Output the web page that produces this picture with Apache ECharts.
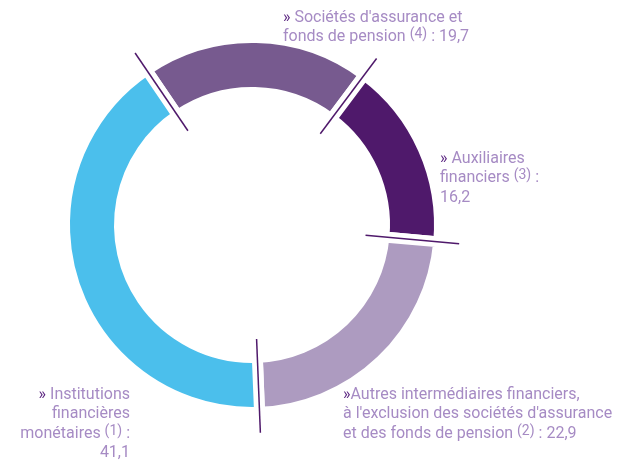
<!DOCTYPE html>
<html>
<head>
<meta charset="utf-8">
<script src="https://cdn.jsdelivr.net/npm/echarts@6/dist/echarts.min.js"></script>
<style>
html,body{margin:0;padding:0;background:#fff;}
#chart{width:619px;height:463px;}
</style>
</head>
<body>
<div id="chart"></div>
<script>
// ---- Data ----
const categories = [
  "Sociétés d'assurance et fonds de pension",
  "Auxiliaires financiers",
  "Autres intermédiaires financiers, à l'exclusion des sociétés d'assurance et des fonds de pension",
  "Institutions financières monétaires"
];
const values = [19.7, 16.2, 22.9, 41.1];
const noteRefs = ["(4)", "(3)", "(2)", "(1)"];
// label lines: {n} = note reference, {v} = value
const labelLines = [
  ["» Sociétés d'assurance et", "fonds de pension {n} : {v}"],
  ["» Auxiliaires", "financiers {n} :", "{v}"],
  ["»Autres intermédiaires financiers,", "à l'exclusion des sociétés d'assurance", "et des fonds de pension {n} : {v}"],
  ["» Institutions", "financières", "monétaires {n} :", "{v}"]
];
const colors = ["#775a8f", "#4f196b", "#ad9bc0", "#4bbfec"];

// ---- Build ----
const total = values.reduce((a, b) => a + b, 0);
const boundaries = [];
let acc = 0;
values.forEach(v => { boundaries.push(acc); acc += v; });

function fmt(v) { return String(v).replace('.', ','); }
function buildLabel(i) {
  return labelLines[i].map(line => {
    let out = '';
    let rest = line;
    if (rest.startsWith('»')) { out += '{c|»}'; rest = rest.slice(1); }
    const parts = rest.split(/(\{n\}|\{v\})/);
    parts.forEach(p => {
      if (p === '{n}') out += '{s|' + noteRefs[i] + '}';
      else if (p === '{v}') out += '{t|' + fmt(values[i]) + '}';
      else if (p.length) out += '{t|' + p + '}';
    });
    return out;
  }).join('\n');
}

const labelPos = [
  { x: 283, y: 8, align: 'left' },
  { x: 440, y: 149, align: 'left' },
  { x: 343, y: 385, align: 'left' },
  { x: 130, y: 385, align: 'right' }
];

const CX = 252, CY = 225;
const START = 124.2;
const FONT = 'Roboto, "Noto Sans", sans-serif';
const LH = 19.5;

const chart = echarts.init(document.getElementById('chart'), null, { renderer: 'canvas' });
chart.setOption({
  animation: false,
  backgroundColor: '#ffffff',
  polar: { center: [CX, CY], radius: [0, 208] },
  angleAxis: { type: 'value', min: 0, max: total, startAngle: START, clockwise: true, show: false },
  radiusAxis: { type: 'value', min: 0, max: 208, show: false },
  series: [
    {
      type: 'pie',
      center: [CX, CY],
      radius: [132.5, 187.5],
      startAngle: START,
      clockwise: true,
      avoidLabelOverlap: false,
      silent: true,
      itemStyle: { borderColor: '#ffffff', borderWidth: 11 },
      labelLine: { show: false },
      label: {
        show: true,
        position: 'outside',
        formatter: p => buildLabel(p.dataIndex),
        fontFamily: FONT,
        fontSize: 16,
        lineHeight: LH,
        color: '#a68bc4',
        rich: {
          c: { color: '#5a2480', fontFamily: FONT, fontSize: 16, lineHeight: LH },
          t: { color: '#a68bc4', fontFamily: FONT, fontSize: 16, lineHeight: LH },
          s: { color: '#a68bc4', fontFamily: FONT, fontSize: 14, lineHeight: LH, verticalAlign: 'top' }
        }
      },
      labelLayout: function (params) {
        const lp = labelPos[params.dataIndex];
        return { x: lp.x, y: lp.y, align: lp.align, verticalAlign: 'top' };
      },
      data: categories.map((name, i) => ({ name: name, value: values[i], itemStyle: { color: colors[i] } }))
    },
    {
      type: 'custom',
      coordinateSystem: 'polar',
      silent: true,
      z: 10,
      data: boundaries.map(b => [0, b]),
      renderItem: function (params, api) {
        const a = api.value(1);
        const p1 = api.coord([114, a]);
        const p2 = api.coord([208, a]);
        return {
          type: 'line',
          shape: { x1: p1[0], y1: p1[1], x2: p2[0], y2: p2[1] },
          style: { stroke: '#4f196b', lineWidth: 1.5 }
        };
      }
    }
  ]
});
</script>
</body>
</html>
